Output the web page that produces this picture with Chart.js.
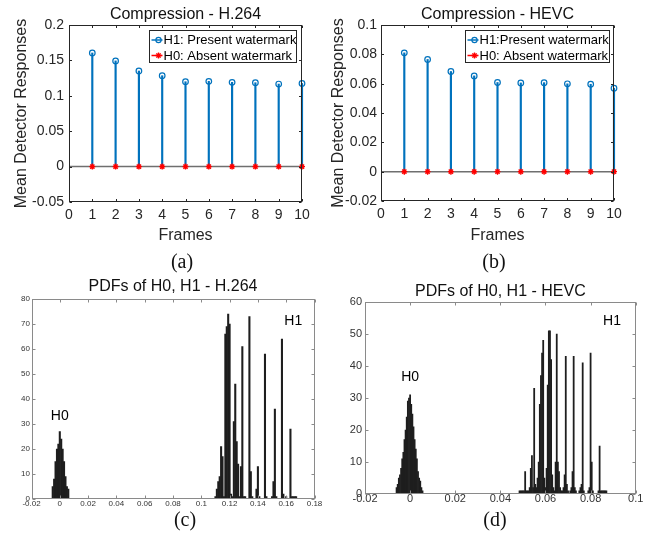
<!DOCTYPE html>
<html><head><meta charset="utf-8">
<script src="https://cdn.jsdelivr.net/npm/chart.js@4/dist/chart.umd.min.js"></script>
<style>
html,body{margin:0;padding:0;background:#fff}
body{width:651px;height:546px;position:relative;overflow:hidden}
.p{position:absolute}
.p canvas{display:block}
.cap{position:absolute;font-family:"Liberation Serif","Times New Roman",serif;font-size:20px;color:#111;width:60px;text-align:center;line-height:20px}
</style></head><body>
<div class="p" style="left:0;top:0;width:325px;height:250px"><canvas id="ca" width="325" height="250"></canvas></div>
<div class="p" style="left:320px;top:0;width:331px;height:250px"><canvas id="cb" width="331" height="250"></canvas></div>
<div class="p" style="left:0;top:270px;width:325px;height:276px"><canvas id="cc" width="325" height="276"></canvas></div>
<div class="p" style="left:320px;top:270px;width:331px;height:276px"><canvas id="cd" width="331" height="276"></canvas></div>
<div class="cap" style="left:152px;top:251px">(a)</div>
<div class="cap" style="left:464px;top:251px">(b)</div>
<div class="cap" style="left:155px;top:509px">(c)</div>
<div class="cap" style="left:465px;top:509px">(d)</div>
<script>
// ---------- data ----------
const frames = [1, 2, 3, 4, 5, 6, 7, 8, 9, 10];
const frameTicks = [0, 1, 2, 3, 4, 5, 6, 7, 8, 9, 10];

const h264_H1 = [0.1605, 0.1493, 0.1350, 0.1284, 0.1199, 0.1204, 0.1190, 0.1185, 0.1166, 0.1175];
const h264_H0 = [0, 0, 0, 0, 0, 0, 0, 0, 0, 0];
const h264_yTicks = [-0.05, 0, 0.05, 0.1, 0.15, 0.2];

const hevc_H1 = [0.0810, 0.0765, 0.0683, 0.0653, 0.0608, 0.0605, 0.0607, 0.0599, 0.0596, 0.0569];
const hevc_H0 = [0, 0, 0, 0, 0, 0, 0, 0, 0, 0];
const hevc_yTicks = [-0.02, 0, 0.02, 0.04, 0.06, 0.08, 0.1];

// PDF (histogram) of H.264 responses
const pdf264_H0_bins   = [-0.005, -0.004, -0.003, -0.002, -0.001, 0, 0.001, 0.002, 0.003, 0.004, 0.005, 0.006];
const pdf264_H0_counts = [5, 8, 15, 20, 22, 27, 24, 20, 15, 9, 5, 4];
const pdf264_H1_bins   = [0.110, 0.111, 0.112, 0.113, 0.114, 0.115, 0.116, 0.117, 0.118, 0.119, 0.120, 0.121, 0.122, 0.123, 0.124, 0.125, 0.126, 0.127, 0.128, 0.129, 0.130, 0.131, 0.134, 0.135, 0.136, 0.139, 0.140, 0.141, 0.145, 0.146, 0.150, 0.151, 0.152, 0.153, 0.157, 0.158, 0.160, 0.163, 0.164, 0.165, 0.166, 0.167];
const pdf264_H1_counts = [1, 4, 7, 9, 21, 17, 1, 66, 69, 74, 70, 2, 1, 31, 46, 23, 14, 1, 13, 61, 1, 1, 73, 11, 1, 4, 13, 1, 58, 1, 1, 7, 36, 1, 64, 2, 1, 28, 1, 1, 1, 1];
const pdf264_xTicks = [-0.02, 0, 0.02, 0.04, 0.06, 0.08, 0.1, 0.12, 0.14, 0.16, 0.18];
const pdf264_yTicks = [0, 10, 20, 30, 40, 50, 60, 70, 80];

// PDF (histogram) of HEVC responses
const pdfHevc_H0_bins   = [-0.006, -0.0055, -0.005, -0.0045, -0.004, -0.0035, -0.003, -0.0025, -0.002, -0.0015, -0.001, -0.0005, 0, 0.0005, 0.001, 0.0015, 0.002, 0.0025, 0.003, 0.0035, 0.004, 0.0045, 0.005, 0.0055];
const pdfHevc_H0_counts = [2, 3, 5, 6, 8, 11, 13, 17, 20, 24, 29, 30, 31, 28, 25, 21, 17, 14, 11, 7, 5, 4, 2, 1];
const pdfHevc_H1_bins   = [0.0485, 0.049, 0.0495, 0.05, 0.0505, 0.051, 0.0515, 0.052, 0.0525, 0.053, 0.0535, 0.054, 0.0545, 0.055, 0.0555, 0.056, 0.0565, 0.057, 0.0575, 0.058, 0.0585, 0.059, 0.0595, 0.060, 0.0605, 0.061, 0.0615, 0.062, 0.0625, 0.063, 0.0635, 0.064, 0.0645, 0.065, 0.0655, 0.066, 0.0665, 0.067, 0.0675, 0.068, 0.0685, 0.069, 0.0695, 0.070, 0.071, 0.0715, 0.072, 0.0725, 0.073, 0.0735, 0.075, 0.0755, 0.076, 0.0765, 0.077, 0.079, 0.0795, 0.080, 0.0805, 0.081, 0.0835, 0.084, 0.0845, 0.085, 0.0855, 0.086, 0.0865, 0.087];
const pdfHevc_H1_counts = [1, 1, 1, 1, 1, 7, 1, 1, 1, 2, 8, 12, 2, 33, 3, 2, 5, 10, 28, 37, 44, 48, 5, 2, 8, 34, 51, 51, 42, 6, 2, 1, 10, 50, 10, 7, 2, 1, 1, 2, 6, 43, 3, 1, 1, 2, 7, 43, 2, 1, 1, 2, 3, 41, 1, 1, 2, 44, 10, 1, 1, 15, 1, 1, 1, 1, 1, 1];
const pdfHevc_xTicks = [-0.02, 0, 0.02, 0.04, 0.06, 0.08, 0.1];
const pdfHevc_yTicks = [0, 10, 20, 30, 40, 50, 60];

// ---------- styling ----------
const FONT = '"Liberation Sans", Arial, Helvetica, sans-serif';
const TXT = '#262626';
const BLUE = '#0072BD';
const RED = '#FF0000';
const BAR = '#1e1e1e';
Chart.defaults.font.family = FONT;

const fmt = v => String(Math.round(v * 1e6) / 1e6);
const setTicks = arr => (s => { s.ticks = arr.map(v => ({value: v})); });

const boxPlugin = {
  id: 'mbox',
  afterDatasetsDraw(chart, args, o) {
    const {ctx, chartArea: a, scales: {x, y}} = chart;
    ctx.save();
    ctx.strokeStyle = o.color; ctx.lineWidth = 1;
    const L = o.tick;
    const l = Math.round(a.left) + 0.5, r = Math.round(a.right) - 0.5, t = Math.round(a.top) + 0.5, b = Math.round(a.bottom) - 0.5;
    ctx.beginPath();
    x.ticks.forEach(tk => { const px = Math.round(x.getPixelForValue(tk.value)) + 0.5; ctx.moveTo(px, b); ctx.lineTo(px, b - L); ctx.moveTo(px, t); ctx.lineTo(px, t + L); });
    y.ticks.forEach(tk => { const py = Math.round(y.getPixelForValue(tk.value)) + 0.5; ctx.moveTo(l, py); ctx.lineTo(l + L, py); ctx.moveTo(r, py); ctx.lineTo(r - L, py); });
    ctx.stroke();
    ctx.strokeRect(l, t, r - l, b - t);
    ctx.restore();
  }
};

const legendPlugin = {
  id: 'mlegend',
  afterDraw(chart, args, o) {
    if (!o || !o.items) return;
    const {ctx, chartArea: a} = chart;
    const bx = Math.round(a.left + o.dx) + 0.5, by = Math.round(a.top + o.dy) + 0.5;
    ctx.save();
    ctx.fillStyle = '#fff'; ctx.fillRect(bx, by, o.w, o.h);
    ctx.strokeStyle = TXT; ctx.lineWidth = 1; ctx.strokeRect(bx, by, o.w, o.h);
    o.items.forEach((it, i) => {
      const cy = by + o.rows[i];
      ctx.strokeStyle = it.color; ctx.lineWidth = 1.5;
      ctx.beginPath(); ctx.moveTo(bx + o.lx0, cy); ctx.lineTo(bx + o.lx1, cy); ctx.stroke();
      ctx.fillStyle = 'rgba(0,0,0,0)'; ctx.strokeStyle = it.color; ctx.lineWidth = it.bw;
      Chart.helpers.drawPoint(ctx, {pointStyle: it.style, radius: it.r, borderWidth: it.bw, rotation: 0}, bx + o.mx, cy);
      ctx.fillStyle = '#000'; ctx.font = '13px ' + FONT; ctx.textBaseline = 'middle'; ctx.textAlign = 'left';
      ctx.fillText(it.text, bx + o.tx, cy + 0.5);
    });
    ctx.restore();
  }
};

const textPlugin = {
  id: 'mtext',
  afterDatasetsDraw(chart, args, o) {
    if (!o || !o.items) return;
    const {ctx, scales: {x, y}} = chart;
    ctx.save();
    ctx.fillStyle = '#000'; ctx.font = o.size + 'px ' + FONT; ctx.textAlign = 'center'; ctx.textBaseline = 'middle';
    o.items.forEach(it => ctx.fillText(it.text, x.getPixelForValue(it.x), y.getPixelForValue(it.y)));
    ctx.restore();
  }
};

function stemChart(id, c) {
  return new Chart(document.getElementById(id), {
    type: 'bar',
    data: { datasets: [
      {type: 'bar', label: 'stem', data: frames.map((f, i) => ({x: f, y: c.h1[i]})), backgroundColor: BLUE, barThickness: 1.5, borderWidth: 0, order: 4, clip: false},
      {type: 'line', label: c.h1Label, data: frames.map((f, i) => ({x: f, y: c.h1[i]})), showLine: false, pointStyle: 'circle', pointRadius: 2.8, pointBorderColor: BLUE, pointBackgroundColor: 'rgba(0,0,0,0)', pointBorderWidth: 1.2, order: 3, clip: false},
      {type: 'line', label: 'baseline', data: [{x: frameTicks[0], y: 0}, {x: frameTicks[frameTicks.length - 1], y: 0}], borderColor: '#6f6f6f', borderWidth: 1.5, pointRadius: 0, order: 2},
      {type: 'line', label: c.h0Label, data: frames.map((f, i) => ({x: f, y: c.h0[i]})), showLine: false, pointStyle: 'star', pointRadius: 3, pointBorderColor: RED, pointBackgroundColor: RED, pointBorderWidth: 1.4, order: 1, clip: false}
    ]},
    plugins: [boxPlugin, legendPlugin],
    options: {
      responsive: false, animation: false, events: [],
      layout: {padding: {left: 0, right: c.padR, top: 0, bottom: c.padB}},
      plugins: {
        legend: {display: false}, tooltip: {enabled: false},
        title: {display: true, fullSize: false, text: c.title, color: '#111', font: {family: FONT, size: 16, weight: 'normal'}, padding: {top: 5, bottom: 0.8}},
        mbox: {color: TXT, tick: 2.5},
        mlegend: {dx: c.lg.dx, dy: 5, w: c.lg.w, h: 32, rows: [9.5, 25], lx0: 2, lx1: 13, mx: c.lg.mx, tx: c.lg.tx,
          items: [
            {text: c.h1Label, color: BLUE, style: 'circle', r: 2.6, bw: 1.2},
            {text: c.h0Label, color: RED, style: 'star', r: 3, bw: 1.4}
          ]}
      },
      scales: {
        x: {type: 'linear', min: 0, max: 10, offset: false,
          grid: {display: false, drawTicks: false}, border: {display: false},
          afterBuildTicks: setTicks(frameTicks),
          ticks: {color: TXT, font: {size: 14}, padding: 5, maxRotation: 0, autoSkip: false, callback: fmt},
          title: {display: true, text: 'Frames', color: TXT, font: {size: 16}, padding: {top: 0, bottom: 0}},
          afterFit: s => { s.height = c.xh; }},
        y: {type: 'linear', min: c.yTicks[0], max: c.yTicks[c.yTicks.length - 1],
          grid: {display: false, drawTicks: false}, border: {display: false},
          afterBuildTicks: setTicks(c.yTicks),
          ticks: {color: TXT, font: {size: 14}, padding: c.ytp, autoSkip: false, callback: fmt},
          title: {display: true, text: 'Mean Detector Responses', color: TXT, font: {size: 16}, padding: {top: c.ytitle, bottom: 0}},
          afterFit: s => { s.width = c.yw; }}
      }
    }
  });
}

function histChart(id, c) {
  const mk = (bins, counts) => bins.map((b, i) => ({x: b, y: counts[i]}));
  return new Chart(document.getElementById(id), {
    type: 'bar',
    data: { datasets: [
      {label: 'H0', data: mk(c.h0b, c.h0c), backgroundColor: BAR, borderWidth: 0, barPercentage: 1, categoryPercentage: 1, grouped: false},
      {label: 'H1', data: mk(c.h1b, c.h1c), backgroundColor: BAR, borderWidth: 0, barPercentage: 1, categoryPercentage: 1, grouped: false}
    ]},
    plugins: [boxPlugin, textPlugin],
    options: {
      responsive: false, animation: false, events: [],
      layout: {padding: {left: 0, right: c.padR, top: 0, bottom: c.padB}},
      plugins: {
        legend: {display: false}, tooltip: {enabled: false},
        title: {display: true, fullSize: false, text: c.title, color: '#111', font: {family: FONT, size: 16, weight: 'normal'}, padding: {top: c.tpt, bottom: c.tpb}},
        mbox: {color: '#8a8a8a', tick: 3},
        mtext: {size: c.lblSize, items: c.labels}
      },
      scales: {
        x: {type: 'linear', min: c.xTicks[0], max: c.xTicks[c.xTicks.length - 1], offset: false,
          grid: {display: false, drawTicks: false}, border: {display: false},
          afterBuildTicks: setTicks(c.xTicks),
          ticks: {color: '#333', font: {size: c.fs, lineHeight: 1}, padding: c.xtp, maxRotation: 0, autoSkip: false, callback: fmt},
          afterFit: s => { s.height = 15; }},
        y: {type: 'linear', min: c.yTicks[0], max: c.yTicks[c.yTicks.length - 1],
          grid: {display: false, drawTicks: false}, border: {display: false},
          afterBuildTicks: setTicks(c.yTicks),
          ticks: {color: '#333', font: {size: c.fs, lineHeight: 1}, padding: c.ytp, autoSkip: false, callback: fmt},
          afterFit: s => { s.width = c.yw; }}
      }
    }
  });
}

stemChart('ca', {title: 'Compression - H.264', h1: h264_H1, h0: h264_H0, yTicks: h264_yTicks,
  h1Label: 'H1: Present watermark', h0Label: 'H0: Absent watermark',
  padR: 23, padB: 5, xh: 43, yw: 69, ytp: 5, ytitle: 12.4,
  lg: {dx: 80, w: 147, mx: 9, tx: 14}});
stemChart('cb', {title: 'Compression - HEVC', h1: hevc_H1, h0: hevc_H0, yTicks: hevc_yTicks,
  h1Label: 'H1:Present watermark', h0Label: 'H0: Absent watermark',
  padR: 37, padB: 5, xh: 44, yw: 61, ytp: 4, ytitle: 9.4,
  lg: {dx: 84, w: 144, mx: 9, tx: 14}});
histChart('cc', {title: 'PDFs of H0, H1 - H.264', h0b: pdf264_H0_bins, h0c: pdf264_H0_counts, h1b: pdf264_H1_bins, h1c: pdf264_H1_counts,
  xTicks: pdf264_xTicks, yTicks: pdf264_yTicks, padR: 10.5, padB: 32, yw: 31.5, fs: 8, xtp: 1, ytp: 1.5, tpt: 7.4, tpb: 2.4,
  lblSize: 14, labels: [{text: 'H0', x: 0, y: 33}, {text: 'H1', x: 0.165, y: 71}]});
histChart('cd', {title: 'PDFs of H0, H1 - HEVC', h0b: pdfHevc_H0_bins, h0c: pdfHevc_H0_counts, h1b: pdfHevc_H1_bins, h1c: pdfHevc_H1_counts,
  xTicks: pdfHevc_xTicks, yTicks: pdfHevc_yTicks, padR: 15.3, padB: 37, yw: 45, fs: 11, xtp: -1, ytp: 3, tpt: 12.4, tpb: 0.4,
  lblSize: 14, labels: [{text: 'H0', x: 0, y: 36.5}, {text: 'H1', x: 0.0895, y: 54}]});
</script>
</body></html>
